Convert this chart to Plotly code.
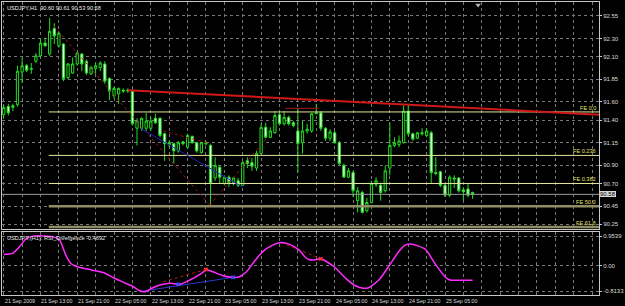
import plotly.graph_objects as go

# ---------------- data ----------------
bar_index = list(range(103))
opens = [91.46, 91.55, 91.54, 91.57, 91.93, 92.00, 91.96, 92.05, 92.11, 92.25,
         92.13, 92.41, 92.22, 92.24, 91.87, 91.92, 92.02, 92.13, 92.05, 91.91,
         91.97, 91.98, 92.02, 91.86, 91.67, 91.69, 91.73, 91.72, 91.72, 91.31,
         91.31, 91.31, 91.31, 91.42, 91.42, 91.25, 91.13, 91.14, 91.06, 91.16,
         91.10, 91.22, 91.15, 91.04, 91.15, 91.12, 90.76, 90.88, 90.70, 90.77,
         90.71, 90.73, 90.68, 90.95, 90.93, 90.87, 91.03, 91.32, 91.21, 91.26,
         91.46, 91.36, 91.43, 91.37, 91.28, 91.15, 91.28, 91.28, 91.47, 91.48,
         91.31, 91.20, 91.26, 91.15, 90.90, 90.77, 90.82, 90.51, 90.60, 90.40,
         90.49, 90.69, 90.68, 90.62, 90.87, 91.12, 91.13, 91.15, 91.50, 91.25,
         91.20, 91.26, 91.23, 91.26, 90.82, 90.83, 90.68, 90.57, 90.76, 90.76,
         90.63, 90.64, 90.60]
highs = [91.57, 91.58, 91.58, 92.00, 92.09, 92.02, 92.03, 92.14, 92.30, 92.31,
         92.53, 92.47, 92.38, 92.25, 92.03, 92.09, 92.15, 92.14, 92.07, 92.00,
         92.03, 92.05, 92.05, 91.87, 91.77, 91.76, 91.75, 91.75, 91.74, 91.42,
         91.43, 91.48, 91.43, 91.47, 91.43, 91.26, 91.17, 91.15, 91.17, 91.17,
         91.25, 91.23, 91.16, 91.16, 91.17, 91.14, 90.99, 90.90, 90.79, 90.79,
         90.77, 90.76, 90.95, 90.99, 90.98, 91.06, 91.36, 91.37, 91.32, 91.50,
         91.48, 91.50, 91.45, 91.39, 91.53, 91.39, 91.36, 91.48, 91.58, 91.50,
         91.32, 91.30, 91.28, 91.17, 90.92, 90.87, 90.84, 90.66, 90.62, 90.54,
         90.73, 90.77, 90.71, 90.90, 91.37, 91.21, 91.23, 91.56, 91.56, 91.26,
         91.27, 91.31, 91.31, 91.28, 90.99, 90.84, 90.70, 90.79, 90.79, 90.77,
         90.66, 90.70, 90.61]
lows = [91.42, 91.45, 91.50, 91.55, 91.81, 91.93, 91.91, 92.03, 92.09, 92.21,
        92.11, 92.24, 92.20, 91.83, 91.85, 91.91, 92.00, 91.94, 91.90, 91.90,
        91.91, 91.94, 91.80, 91.62, 91.64, 91.58, 91.70, 91.70, 91.34, 91.12,
        91.28, 91.28, 91.28, 91.36, 91.21, 90.95, 91.10, 90.92, 91.04, 91.12,
        91.09, 91.14, 91.04, 91.03, 91.12, 90.46, 90.73, 90.70, 90.68, 90.66,
        90.68, 90.66, 90.68, 90.87, 90.84, 90.84, 91.03, 91.20, 91.20, 91.25,
        91.34, 91.34, 91.34, 91.32, 90.82, 91.03, 91.25, 91.26, 91.47, 91.28,
        91.17, 91.17, 91.14, 90.90, 90.77, 90.76, 90.55, 90.38, 90.37, 90.38,
        90.48, 90.66, 90.51, 90.60, 90.79, 91.10, 91.10, 91.14, 91.23, 91.17,
        91.19, 91.23, 91.21, 90.70, 90.79, 90.66, 90.55, 90.55, 90.65, 90.60,
        90.51, 90.55, 90.53]
closes = [91.54, 91.48, 91.56, 91.94, 92.00, 91.95, 91.97, 92.11, 92.25, 92.22,
          92.38, 92.33, 92.36, 91.86, 92.02, 92.02, 92.14, 92.02, 91.92, 91.98,
          92.00, 92.03, 91.83, 91.72, 91.75, 91.75, 91.72, 91.73, 91.36, 91.39,
          91.42, 91.39, 91.39, 91.37, 91.23, 91.14, 91.15, 91.06, 91.15, 91.14,
          91.23, 91.15, 91.06, 91.15, 91.14, 90.70, 90.90, 90.77, 90.77, 90.71,
          90.76, 90.68, 90.93, 90.92, 90.89, 91.03, 91.32, 91.21, 91.28, 91.45,
          91.36, 91.43, 91.36, 91.34, 91.14, 91.28, 91.30, 91.47, 91.48, 91.31,
          91.20, 91.27, 91.15, 90.92, 90.77, 90.84, 90.62, 90.62, 90.38, 90.49,
          90.70, 90.73, 90.60, 90.84, 91.12, 91.15, 91.17, 91.50, 91.25, 91.19,
          91.26, 91.25, 91.28, 90.82, 90.81, 90.68, 90.57, 90.77, 90.75, 90.62,
          90.61, 90.57, 90.58]

price_ticks = [92.55, 92.30, 92.10, 91.85, 91.60, 91.40, 91.15, 90.90, 90.70, 90.45, 90.25]
price_tick_labels = ["92.55", "92.30", "92.10", "91.85", "91.60", "91.40",
                     "91.15", "90.90", "90.70", "90.45", "90.25"]

time_label_bars = [0, 8, 16, 24, 32, 40, 48, 56, 64, 72, 80, 88, 96]
time_labels = ["21 Sep 2009", "21 Sep 13:00", "21 Sep 21:00", "22 Sep 05:00",
               "22 Sep 13:00", "22 Sep 21:00", "23 Sep 05:00", "23 Sep 13:00",
               "23 Sep 21:00", "24 Sep 05:00", "24 Sep 13:00", "24 Sep 21:00",
               "25 Sep 05:00"]

fe_levels = [91.49, 91.01, 90.70, 90.45, 90.22]
fe_names = ["FE 0.0", "FE 0.236", "FE 0.382", "FE 50.0", "FE 61.8"]
fe_start_bar = 9.8
bid_price = 90.58

trend_x = [27.0, 129.5]
trend_y = [91.73, 91.46]
div_a_x = [10.9, 44.8]
div_a_y = [92.44, 90.46]
div_b_x = [44.8, 57.2]
div_b_y = [90.46, 91.20]
div_c_x = [34.7, 44.2]
div_c_y = [91.28, 91.15]
blue_x = [29.7, 52.0]
blue_y = [91.31, 90.66]
bracket_x = [61.3, 68.5]
bracket_y = [91.53, 91.53]

rsi_x = [0.0, 1.9, 3.4, 4.8, 6.6, 8.8, 10.9, 12.2, 13.5, 14.6, 16.0, 18.2, 20.3,
         21.8, 23.9, 26.1, 28.2, 29.7, 30.8, 32.2, 34.0, 36.2, 38.3, 40.5, 42.7,
         44.1, 45.5, 47.7, 49.9, 51.3, 52.8, 54.2, 56.3, 58.5, 60.3, 62.1, 64.3,
         65.7, 66.4, 67.5, 69.0, 71.9, 74.4, 76.5, 78.3, 79.4, 81.6, 83.7, 85.9,
         87.3, 88.8, 91.7, 93.8, 96.0, 97.1, 99.6, 102.0]
rsi_y = [0.366, 0.398, 0.610, 0.858, 0.964, 0.964, 0.931, 0.825, 0.343, 0.076,
         -0.032, -0.106, -0.170, -0.225, -0.386, -0.534, -0.675, -0.813, -0.836,
         -0.726, -0.620, -0.566, -0.598, -0.460, -0.277, -0.138, -0.193, -0.322,
         -0.373, -0.354, -0.193, 0.077, 0.450, 0.665, 0.751, 0.697, 0.504, 0.260,
         0.205, 0.190, 0.225, -0.032, -0.405, -0.643, -0.726, -0.707, -0.460,
         -0.032, 0.450, 0.665, 0.697, 0.536, 0.076, -0.353, -0.460, -0.465, -0.469]
ind_red1_x = [34.7, 44.0]
ind_red1_y = [-0.514, -0.116]
ind_red2_x = [60.3, 69.0]
ind_red2_y = [0.751, 0.225]
ind_blue_x = [29.7, 49.9]
ind_blue_y = [-0.830, -0.373]
ind_blue_mark_x = [38.0, 49.9]
ind_blue_mark_y = [-0.598, -0.373]
ind_ticks = [0.9539, 0.0, -0.8133]
ind_tick_labels = ["0.9539", "0.00", "-0.8133"]
shift_marker_x = [103.2]
shift_marker_y = [92.67]

title_text = "USDJPY,H1  90.60 90.61 90.53 90.58"
ind_title = "USDJPY,(H1): RSI_Divergence -0.4692"

# ---------------- figure ----------------
X_RANGE = [-0.37, 129.5]
FONT = "Liberation Sans"
GRID = "#777777"
FRAME = "#c8c8c8"
TXT = "#dcdcdc"

fig = go.Figure()

fig.add_trace(go.Candlestick(
    x=bar_index, open=opens, high=highs, low=lows, close=closes,
    increasing=dict(line=dict(color="#22dd22", width=1), fillcolor="#000000"),
    decreasing=dict(line=dict(color="#22dd22", width=1), fillcolor="#eaffea"),
    whiskerwidth=0, hoverinfo="skip", showlegend=False, xaxis="x", yaxis="y"))

def line(x, y, color, width=1, dash="solid", xa="x", ya="y"):
    fig.add_trace(go.Scatter(x=x, y=y, mode="lines",
                             line=dict(color=color, width=width, dash=dash),
                             hoverinfo="skip", showlegend=False, xaxis=xa, yaxis=ya))

# bid line
line([X_RANGE[0], X_RANGE[1]], [bid_price, bid_price], "#9a9a9a", 1)
# FE levels
fe_colors = ["#e4e49c", "#e4e49c", "#e4e49c", "#8e8e66", "#8e8e66"]
fe_widths = [1, 1, 1, 2.5, 2.5]
for lvl, c, w in zip(fe_levels, fe_colors, fe_widths):
    line([fe_start_bar, X_RANGE[1]], [lvl, lvl], c, w)
# divergence / fibo anchor lines
line(div_a_x, div_a_y, "#a01818", 1, "dot")
line(div_b_x, div_b_y, "#a01818", 1, "dot")
line(div_c_x, div_c_y, "#a01818", 1, "dot")
line(blue_x, blue_y, "#2424b4", 1)
line(bracket_x, bracket_y, "#b01818", 1)
# trend line
line(trend_x, trend_y, "#d01818", 2)

fig.add_trace(go.Scatter(x=shift_marker_x, y=shift_marker_y, mode="markers",
                         marker=dict(symbol="triangle-down", size=5, color="#b0b0b0"),
                         hoverinfo="skip", showlegend=False, xaxis="x", yaxis="y"))

# indicator
line(ind_blue_x, ind_blue_y, "#2a3ad0", 1, "solid", "x2", "y2")
line(ind_red1_x, ind_red1_y, "#c01818", 1, "dot", "x2", "y2")
line(ind_red2_x, ind_red2_y, "#c01818", 1, "dot", "x2", "y2")
fig.add_trace(go.Scatter(x=rsi_x, y=rsi_y, mode="lines",
                         line=dict(color="#ff2cff", width=1.5, shape="spline", smoothing=0.6),
                         hoverinfo="skip", showlegend=False, xaxis="x2", yaxis="y2"))
fig.add_trace(go.Scatter(x=[ind_red1_x[1], ind_red2_x[1]], y=[ind_red1_y[1], ind_red2_y[1]],
                         mode="markers", marker=dict(symbol="x", size=4, color="#ff3030"),
                         hoverinfo="skip", showlegend=False, xaxis="x2", yaxis="y2"))
fig.add_trace(go.Scatter(x=ind_blue_mark_x, y=ind_blue_mark_y,
                         mode="markers", marker=dict(symbol="x", size=4, color="#3050ff"),
                         hoverinfo="skip", showlegend=False, xaxis="x2", yaxis="y2"))

ax_common = dict(range=X_RANGE, showticklabels=False, tick0=0, dtick=4,
                 showgrid=True, gridcolor=GRID, griddash="3px,3px", gridwidth=1,
                 showline=True, mirror=True, linecolor=FRAME, linewidth=1,
                 zeroline=False, ticks="", fixedrange=True)

fig.update_layout(
    width=625, height=306,
    margin=dict(l=1, r=23, t=1, b=11),
    paper_bgcolor="#000000", plot_bgcolor="#000000",
    font=dict(family=FONT, color=TXT, size=6),
    showlegend=False,
    xaxis=dict(domain=[0, 1], anchor="y", rangeslider=dict(visible=False), **ax_common),
    xaxis2=dict(domain=[0, 1], anchor="y2", **ax_common),
    yaxis=dict(domain=[0.2245, 1], range=[90.195, 92.704], side="right",
               tickmode="array", tickvals=price_ticks, ticktext=price_tick_labels,
               tickfont=dict(size=6, color=TXT, family=FONT),
               ticks="outside", ticklen=2, tickcolor=FRAME,
               showgrid=True, gridcolor=GRID, griddash="3px,3px",
               showline=True, mirror=True, linecolor=FRAME, zeroline=False, fixedrange=True),
    yaxis2=dict(domain=[0, 0.2153], range=[-0.942, 1.092], side="right",
                tickmode="array", tickvals=ind_ticks, ticktext=ind_tick_labels,
                tickfont=dict(size=6, color=TXT, family=FONT),
                ticks="outside", ticklen=2, tickcolor=FRAME,
                showgrid=True, gridcolor=GRID, griddash="3px,3px",
                showline=True, mirror=True, linecolor=FRAME, zeroline=False, fixedrange=True),
)

ann = []
ann.append(dict(text=title_text, xref="paper", yref="paper", x=0, y=1,
                xanchor="left", yanchor="top", xshift=3, yshift=-1, showarrow=False,
                font=dict(size=5.6, color="#f0f0f0", family=FONT)))
ann.append(dict(text=ind_title, xref="paper", yref="y2 domain", x=0, y=1,
                xanchor="left", yanchor="top", xshift=3, yshift=-1, showarrow=False,
                font=dict(size=5.6, color="#e8e8e8", family=FONT)))
for b, t in zip(time_label_bars, time_labels):
    ann.append(dict(text=t, xref="x2", yref="paper", x=b, y=0,
                    xanchor="left", yanchor="top", xshift=-1, yshift=-1, showarrow=False,
                    font=dict(size=5.3, color=TXT, family=FONT)))
for lvl, name in zip(fe_levels, fe_names):
    ann.append(dict(text=name, xref="paper", yref="y", x=1, y=lvl,
                    xanchor="right", yanchor="bottom", xshift=-1, yshift=-1, showarrow=False,
                    font=dict(size=5.6, color="#e0e070", family=FONT)))
ann.append(dict(text=f"{bid_price:.2f}", xref="paper", yref="y", x=1, y=bid_price,
                xanchor="left", yanchor="middle", xshift=1, showarrow=False,
                bgcolor="#d8d8d8", bordercolor="#ffffff", borderwidth=0, borderpad=0,
                font=dict(size=6, color="#000000", family=FONT)))
fig.update_layout(annotations=ann)

fig.write_html("out.html", config={"displayModeBar": False, "staticPlot": True})
